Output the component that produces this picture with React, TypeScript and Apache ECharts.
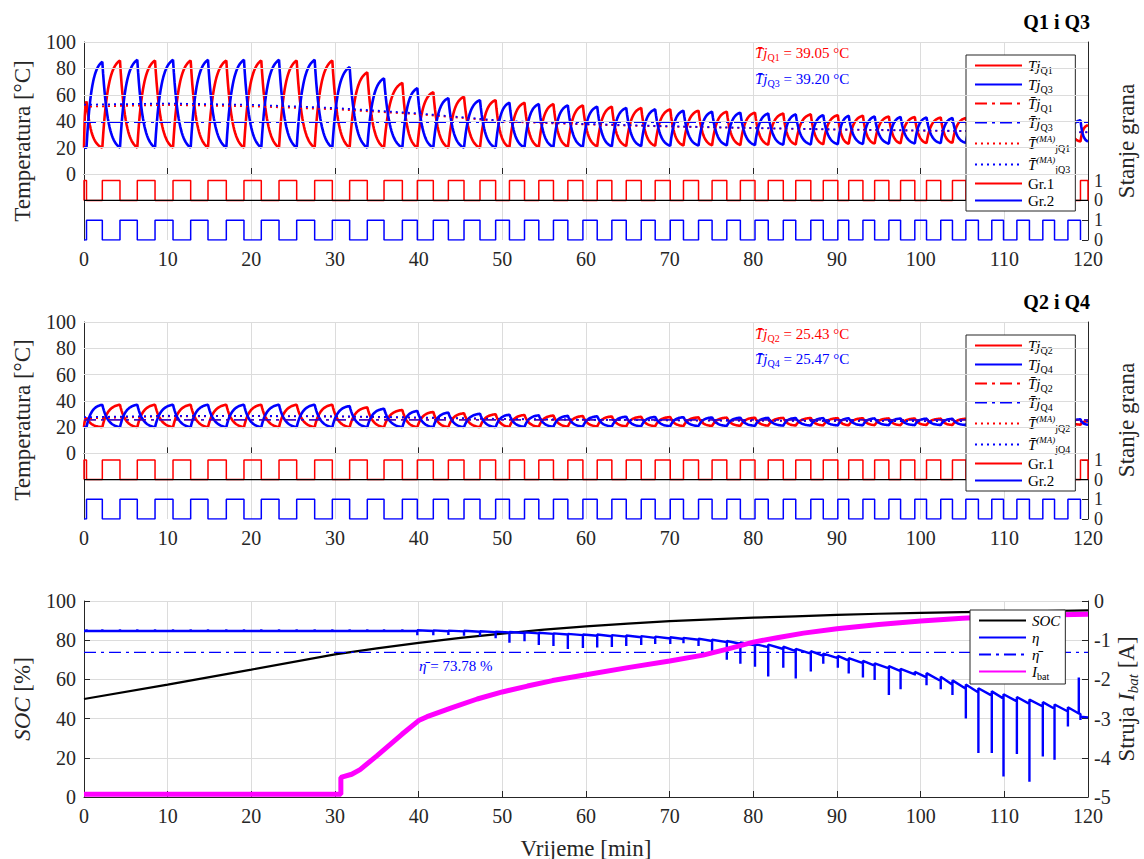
import React, { useEffect, useRef } from "react";
import * as echarts from "echarts";

const FONT = "'Liberation Serif', 'Times New Roman', serif";

// ---------- Gate (switching) edges, minutes: Gr.1 high from gr1On[k] to gr1Off[k]; Gr.2 high in between ----------
const gr1On = [0, 2.19, 6.37, 10.64, 14.82, 19.12, 23.31, 27.57, 31.75, 35.86, 39.84, 43.55, 47.33, 50.85, 54.36, 57.83, 61.34, 64.81, 68.27, 71.65, 75.07, 78.45, 81.78, 85.07, 88.36, 91.4, 94.5, 97.6, 100.7, 103.8, 106.9, 109.9, 113.0, 116.0, 119.1];
const gr1Off = [0.3, 4.3, 8.49, 12.75, 17.01, 21.19, 25.42, 29.68, 33.86, 38.05, 41.75, 45.42, 49.2, 52.65, 56.11, 59.63, 63.09, 66.6, 70.07, 73.45, 76.83, 80.2, 83.58, 86.87, 90.1, 93.1, 96.2, 99.3, 102.4, 105.4, 108.5, 111.5, 114.6, 117.6, 120];
// right-hand "Stanje grana" axis labels (Gr.2 at 0/1, Gr.1 stacked above at 0/1)
const stateLabels = ["0", "1", "0", "1", "", "", "", "", "", "", ""];

// ---------- Panel 1: per-cycle peaks / troughs (deg C) ----------
const q1Peak = [55, 86, 86, 86, 86, 86, 86, 86, 77, 69, 62, 58.5, 56, 54, 53, 52, 51, 50, 49, 48, 47.2, 46.5, 45.8, 45.2, 44.6, 44.1, 43.6, 43.2, 42.8, 42.4, 42, 41.7, 41.4, 41.1, 37];
const q3Peak = [85, 86.5, 86.5, 86.5, 86.5, 86.5, 86.5, 81, 72.5, 65, 57.5, 56, 54, 53, 52, 51, 50, 49, 48, 47.2, 46.5, 45.8, 45.2, 44.6, 44.1, 43.6, 43.2, 42.8, 42.4, 42, 41.7, 41.4, 41.1, 40.8];
const trough1 = [20, 20, 20, 20, 20, 20, 20, 20, 20, 20, 20, 20, 20, 20.3, 20.5, 20.7, 21, 21.2, 21.4, 21.6, 21.8, 22, 22.2, 22.4, 22.6, 22.8, 23, 23.2, 23.4, 23.6, 23.8, 24, 24.2, 24.4, 24.6];
const mean1 = [39.05, 39.2];

// ---------- Panel 2 ----------
const q2Peak = [27, 37, 37, 37, 37, 37, 37, 37, 35, 33, 31.5, 30.5, 29.8, 29.2, 28.8, 28.4, 28.1, 27.8, 27.6, 27.4, 27.2, 27.1, 27, 26.9, 26.8, 26.7, 26.6, 26.5, 26.4, 26.3, 26.2, 26.1, 26, 26, 24.5];
const q4Peak = [37, 37, 37, 37, 37, 37, 37, 36, 34, 32.3, 31, 30.1, 29.4, 28.9, 28.5, 28.2, 27.9, 27.7, 27.5, 27.3, 27.1, 27, 26.9, 26.8, 26.7, 26.6, 26.5, 26.4, 26.3, 26.2, 26.1, 26, 26, 25.9];
const trough2 = [20, 20, 20, 20, 20, 20, 20, 20, 20, 20, 20, 20, 20, 20.2, 20.3, 20.4, 20.5, 20.6, 20.7, 20.8, 20.9, 21, 21.1, 21.2, 21.3, 21.4, 21.5, 21.5, 21.6, 21.6, 21.7, 21.7, 21.8, 21.8, 21.8];
const mean2 = [25.43, 25.47];

// ---------- moving averages ----------
const maTime = [0, 10, 20, 30, 40, 50, 60, 70, 80, 90, 100, 110, 120];
const ma1Red = [51, 52.3, 51.3, 49, 45.3, 39.8, 37.5, 35.9, 34.7, 33.6, 32.8, 32.1, 31.5];
const ma1Blue = [52.5, 53.4, 52.4, 50, 45.9, 40.3, 37.9, 36.2, 34.9, 33.8, 33, 32.3, 31.7];
const ma2Red = [26.5, 28.2, 28.3, 28, 27, 26, 25.5, 25.1, 24.8, 24.6, 24.5, 24.4, 24.3];
const ma2Blue = [27.5, 28.6, 28.5, 28.2, 27.3, 26.2, 25.6, 25.2, 24.9, 24.7, 24.6, 24.5, 24.4];

// ---------- Panel 3 ----------
const socTime = [0, 10, 20, 30, 35, 40, 45, 50, 55, 60, 65, 70, 75, 80, 85, 90, 95, 100, 105, 110, 115, 120];
const socVal = [50, 57.3, 65, 72.8, 75.8, 78.6, 81.2, 83.4, 85.4, 87.1, 88.5, 89.7, 90.6, 91.5, 92.2, 92.9, 93.5, 93.9, 94.3, 94.6, 94.9, 95.2];
const ibatTime = [0, 30.7, 30.7, 32, 33, 35, 38, 40, 41, 44, 47, 50, 53, 56, 60, 65, 70, 74, 77, 80, 83, 86, 90, 95, 100, 105, 110, 115, 120];
const ibatVal = [-4.93, -4.93, -4.5, -4.42, -4.3, -3.95, -3.4, -3.05, -2.95, -2.72, -2.5, -2.32, -2.17, -2.03, -1.88, -1.7, -1.53, -1.38, -1.22, -1.05, -0.93, -0.82, -0.71, -0.6, -0.51, -0.44, -0.39, -0.36, -0.34];
const etaEarly = 84.7;
const etaEarlyBlip = 85.6;
const etaT = [39.84, 41.75, 43.55, 45.42, 47.33, 49.2, 50.85, 52.65, 54.36, 56.11, 57.83, 59.63, 61.34, 63.09, 64.81, 66.6, 68.27, 70.07, 71.65, 73.45, 75.07, 76.83, 78.45, 80.2, 81.78, 83.58, 85.07, 86.87, 88.36, 90.1, 91.4, 93.1, 94.5, 96.2, 97.6, 99.3, 100.7, 102.4, 103.8, 105.4, 106.9, 108.5, 109.9, 111.5, 113.0, 114.6, 116.0, 117.6, 118.9, 119.1];
const etaLvl = [84.8, 84.7, 84.6, 84.5, 84.3, 84.1, 83.9, 83.7, 83.5, 83.2, 82.9, 82.6, 82.3, 82.0, 81.8, 81.5, 81.2, 80.9, 80.6, 80.2, 79.6, 79.0, 78.2, 77.4, 76.5, 75.5, 74.4, 73.2, 72.0, 70.8, 69.6, 68.3, 67.0, 65.6, 64.2, 62.6, 61.0, 59.2, 57.3, 55.2, 53.3, 51.7, 50.2, 48.8, 47.5, 46.2, 45.0, 43.6, 42.6, 42.4];
const etaDip = [82.5, 82.5, 82.6, 82.3, 82, 81, 78.7, 79.5, 77.5, 77, 75.5, 76, 76.3, 76.5, 77, 77.5, 78, 78, 78.5, 77, 74, 70, 68, 66.5, 61.5, 66, 60.5, 64, 68, 66, 63, 61, 59.7, 52, 55, 62, 57, 55, 52, 40, 22.4, 22.4, 10.4, 22, 7.8, 20.6, 19, 36, 61, 39.3];
const etaAft = [85.1, 85.0, 84.9, 84.8, 84.6, 84.4, 84.2, 84.0, 83.8, 83.5, 83.2, 82.9, 82.9, 82.6, 82.4, 82.1, 81.8, 81.5, 81.2, 80.8, 80.2, 79.6, 78.8, 78.0, 77.7, 76.7, 75.6, 74.4, 73.2, 72.0, 70.8, 69.5, 68.2, 66.8, 65.4, 63.8, 63.2, 61.4, 59.5, 57.4, 55.5, 53.9, 52.4, 51.0, 49.7, 48.4, 47.2, 45.8, 42.6, 41.0];
const etaEnd = 40.6;
const etaMean = 73.78;

const T_END = 120;

// ---------- builders ----------
function seg(out: number[][], t0: number, t1: number, v0: number, v1: number) {
  const D = t1 - t0;
  if (D <= 0) return;
  const n = Math.max(6, Math.ceil(D * 10));
  const tau = D / 3.2;
  const norm = 1 - Math.exp(-D / tau);
  for (let i = 0; i <= n; i++) {
    const s = (D * i) / n;
    out.push([t0 + s, v0 + ((v1 - v0) * (1 - Math.exp(-s / tau))) / norm]);
  }
}

function buildPair(pA: number[], pB: number[], tr: number[]) {
  const A: number[][] = [];
  const B: number[][] = [];
  const N = gr1On.length;
  let a = tr[0];
  let b = tr[0];
  for (let k = 0; k < N; k++) {
    seg(A, gr1On[k], gr1Off[k], a, pA[k]);
    a = pA[k];
    seg(B, gr1On[k], gr1Off[k], b, tr[k]);
    b = tr[k];
    const next = k + 1 < N ? gr1On[k + 1] : T_END;
    if (gr1Off[k] < next) {
      const trN = k + 1 < N ? tr[k + 1] : tr[k];
      seg(A, gr1Off[k], next, a, trN);
      a = trN;
      seg(B, gr1Off[k], next, b, pB[k]);
      b = pB[k];
    }
  }
  return [A, B];
}

function gateRed(base: number) {
  const d: number[][] = [];
  for (let k = 0; k < gr1On.length; k++) {
    d.push([gr1On[k], base], [gr1On[k], base + 1], [gr1Off[k], base + 1], [gr1Off[k], base]);
  }
  return d;
}
function gateBlue(base: number) {
  const d: number[][] = [[0, base]];
  for (let k = 0; k < gr1On.length; k++) {
    const next = k + 1 < gr1On.length ? gr1On[k + 1] : T_END;
    if (gr1Off[k] < next) d.push([gr1Off[k], base], [gr1Off[k], base + 1], [next, base + 1], [next, base]);
  }
  return d;
}
const zip = (xs: number[], ys: number[]) => xs.map((x, i) => [x, ys[i]]);

function buildEta() {
  const d: number[][] = [[0, etaEarly]];
  const early = [...gr1On, ...gr1Off].filter((t) => t > 0 && t < etaT[0]).sort((p, q) => p - q);
  early.forEach((t) => d.push([t, etaEarly], [t, etaEarlyBlip], [t, etaEarly]));
  etaT.forEach((t, i) => d.push([t, etaLvl[i]], [t, etaDip[i]], [t, etaAft[i]]));
  d.push([T_END, etaEnd]);
  return d;
}

// ---------- styling helpers ----------
const RED = "#ff0000";
const BLUE = "#0000ff";
const GRIDC = "#dcdcdc";
const DASHDOT = [12, 5, 3, 5];
const DOT = [2, 4];

const richBase = {
  i: { fontFamily: FONT, fontStyle: "italic", fontSize: 15, lineHeight: 19, verticalAlign: "middle" },
  n: { fontFamily: FONT, fontSize: 15, lineHeight: 19, verticalAlign: "middle" },
  s: { fontFamily: FONT, fontSize: 10, lineHeight: 10, verticalAlign: "bottom" },
  p: { fontFamily: FONT, fontStyle: "italic", fontSize: 9, lineHeight: 9, verticalAlign: "top" },
};
const bigRich = {
  i: { fontFamily: FONT, fontStyle: "italic", fontSize: 23, lineHeight: 28, verticalAlign: "middle" },
  n: { fontFamily: FONT, fontSize: 23, lineHeight: 28, verticalAlign: "middle" },
  s: { fontFamily: FONT, fontStyle: "italic", fontSize: 15, lineHeight: 14, verticalAlign: "bottom" },
};

const legendNames: Record<string, string> = {
  TjQ1: "{i|Tj}{s|Q1}",
  TjQ3: "{i|Tj}{s|Q3}",
  TmQ1: "{i|T\u0304j}{s|Q1}",
  TmQ3: "{i|T\u0304j}{s|Q3}",
  MAQ1: "{i|T\u0304}{p|(MA)}{s|jQ1}",
  MAQ3: "{i|T\u0304}{p|(MA)}{s|jQ3}",
  Gr1a: "{n|Gr.1}",
  Gr2a: "{n|Gr.2}",
  TjQ2: "{i|Tj}{s|Q2}",
  TjQ4: "{i|Tj}{s|Q4}",
  TmQ2: "{i|T\u0304j}{s|Q2}",
  TmQ4: "{i|T\u0304j}{s|Q4}",
  MAQ2: "{i|T\u0304}{p|(MA)}{s|jQ2}",
  MAQ4: "{i|T\u0304}{p|(MA)}{s|jQ4}",
  Gr1b: "{n|Gr.1}",
  Gr2b: "{n|Gr.2}",
  SOC: "{i|SOC}",
  eta: "{i|\u03b7}",
  etam: "{i|\u03b7\u0304}",
  Ibat: "{i|I}{s|bat}",
};

function line(name: string, xi: number, yi: number, data: number[][], color: string, width: number, type: any = "solid") {
  return {
    type: "line",
    name,
    xAxisIndex: xi,
    yAxisIndex: yi,
    data,
    symbol: "none",
    showSymbol: false,
    lineStyle: { color, width, type },
    itemStyle: { color, opacity: 0 },
    emphasis: { disabled: true },
    silent: true,
  };
}

function gridSeries(xi: number, yi: number) {
  return {
    type: "line",
    name: "_grid" + xi,
    xAxisIndex: xi,
    yAxisIndex: yi,
    data: [[0, 0], [120, 0]],
    symbol: "none",
    lineStyle: { opacity: 0 },
    silent: true,
    z: 0,
    markLine: {
      silent: true,
      symbol: ["none", "none"],
      label: { show: false },
      animation: false,
      lineStyle: { color: GRIDC, type: "solid", width: 1 },
      data: [0, 20, 40, 60, 80, 100].map((v) => ({ yAxis: v })),
    },
  };
}

function buildOption() {
  const [q1, q3] = buildPair(q1Peak, q3Peak, trough1);
  const [q2, q4] = buildPair(q2Peak, q4Peak, trough2);
  const grids = [
    { left: 84, top: 42, width: 1004, height: 198 },
    { left: 84, top: 322, width: 1004, height: 197 },
    { left: 84, top: 601, width: 1004, height: 196 },
  ];
  const tickLabel = { fontFamily: FONT, fontSize: 20, color: "#262626" };
  const xAxes = [0, 1, 2].map((i) => ({
    type: "value",
    gridIndex: i,
    min: 0,
    max: 120,
    interval: 10,
    axisLine: { show: true, lineStyle: { color: "#262626", width: 1 } },
    axisTick: { show: true, inside: true, length: 6, lineStyle: { color: "#262626" } },
    axisLabel: { ...tickLabel, margin: 9, hideOverlap: false },
    splitLine: { show: true, lineStyle: { color: GRIDC, width: 1 } },
  }));
  const tempAxis = (g: number) => ({
    type: "value",
    gridIndex: g,
    position: "left",
    min: -50,
    max: 100,
    interval: 10,
    axisLine: { show: true, onZero: false, lineStyle: { color: "#262626" } },
    axisTick: { show: true, inside: true, length: 6, customValues: [0, 20, 40, 60, 80, 100], lineStyle: { color: "#262626" } },
    axisLabel: {
      ...tickLabel,
      margin: 8,
      hideOverlap: false,
      customValues: [0, 20, 40, 60, 80, 100],
      formatter: (v: number) => (v >= 0 && v % 20 === 0 ? String(v) : ""),
    },
    splitLine: { show: false },
  });
  const stateAxis = (g: number) => ({
    type: "category",
    gridIndex: g,
    position: "right",
    data: stateLabels,
    boundaryGap: false,
    axisLine: { show: true, onZero: false, lineStyle: { color: "#262626" } },
    axisTick: { show: true, inside: true, length: 6, interval: (i: number) => i <= 3, lineStyle: { color: "#262626" } },
    axisLabel: { ...tickLabel, fontSize: 18, lineHeight: 15, margin: 6, interval: 0, hideOverlap: false },
    splitLine: { show: false },
  });
  const yAxes = [
    tempAxis(0),
    stateAxis(0),
    tempAxis(1),
    stateAxis(1),
    {
      type: "value",
      gridIndex: 2,
      position: "left",
      min: 0,
      max: 100,
      interval: 20,
      axisLine: { show: true, onZero: false, lineStyle: { color: "#262626" } },
      axisTick: { show: true, inside: true, length: 6, lineStyle: { color: "#262626" } },
      axisLabel: { ...tickLabel, margin: 8, hideOverlap: false },
      splitLine: { show: true, lineStyle: { color: GRIDC, width: 1 } },
    },
    {
      type: "value",
      gridIndex: 2,
      position: "right",
      min: -5,
      max: 0,
      interval: 1,
      axisLine: { show: true, onZero: false, lineStyle: { color: "#262626" } },
      axisTick: { show: true, inside: true, length: 6, lineStyle: { color: "#262626" } },
      axisLabel: { ...tickLabel, margin: 6, hideOverlap: false },
      splitLine: { show: false },
    },
  ];

  const series: any[] = [
    gridSeries(0, 0),
    line("Gr1a", 0, 1, gateRed(2), RED, 1.5),
    line("Gr2a", 0, 1, gateBlue(0), BLUE, 1.5),
    line("_base0", 0, 1, [[0, 2], [120, 2]], "#000", 1.2),
    line("TjQ1", 0, 0, q1, RED, 2.6),
    line("TjQ3", 0, 0, q3, BLUE, 2.6),
    line("TmQ1", 0, 0, [[0, mean1[0]], [120, mean1[0]]], RED, 1.3, DASHDOT),
    line("TmQ3", 0, 0, [[0, mean1[1]], [120, mean1[1]]], BLUE, 1.3, DASHDOT),
    line("MAQ1", 0, 0, zip(maTime, ma1Red), RED, 1.8, DOT),
    line("MAQ3", 0, 0, zip(maTime, ma1Blue), BLUE, 1.8, DOT),

    gridSeries(1, 2),
    line("Gr1b", 1, 3, gateRed(2), RED, 1.5),
    line("Gr2b", 1, 3, gateBlue(0), BLUE, 1.5),
    line("_base1", 1, 3, [[0, 2], [120, 2]], "#000", 1.2),
    line("TjQ2", 1, 2, q2, RED, 2.6),
    line("TjQ4", 1, 2, q4, BLUE, 2.6),
    line("TmQ2", 1, 2, [[0, mean2[0]], [120, mean2[0]]], RED, 1.3, DASHDOT),
    line("TmQ4", 1, 2, [[0, mean2[1]], [120, mean2[1]]], BLUE, 1.3, DASHDOT),
    line("MAQ2", 1, 2, zip(maTime, ma2Red), RED, 1.8, DOT),
    line("MAQ4", 1, 2, zip(maTime, ma2Blue), BLUE, 1.8, DOT),

    line("SOC", 2, 4, zip(socTime, socVal), "#000", 2.2),
    line("eta", 2, 4, buildEta(), BLUE, 2.4),
    line("etam", 2, 4, [[0, etaMean], [120, etaMean]], BLUE, 1.2, DASHDOT),
    line("Ibat", 2, 5, zip(ibatTime, ibatVal), "#ff00ff", 5),
  ];

  const legendBase = {
    orient: "vertical",
    itemWidth: 47,
    itemHeight: 14,
    itemGap: 2,
    padding: [3, 5, 3, 8],
    borderColor: "#262626",
    borderWidth: 1,
    backgroundColor: "#ffffff",
    selectedMode: false,
    itemStyle: { opacity: 0, borderWidth: 0 },
    textStyle: { color: "#000", fontFamily: FONT, fontSize: 15, rich: richBase, padding: [0, 0, 0, 1] },
    formatter: (name: string) => legendNames[name] || name,
  };
  const legends = [
    { ...legendBase, left: 966, top: 55, data: ["TjQ1", "TjQ3", "TmQ1", "TmQ3", "MAQ1", "MAQ3", "Gr1a", "Gr2a"] },
    { ...legendBase, left: 966, top: 335, data: ["TjQ2", "TjQ4", "TmQ2", "TmQ4", "MAQ2", "MAQ4", "Gr1b", "Gr2b"] },
    { ...legendBase, left: 970, top: 610, data: ["SOC", "eta", "etam", "Ibat"] },
  ];

  const annot = (x: number, y: number, text: string, color: string) => ({
    type: "text",
    x,
    y,
    z: 50,
    silent: true,
    style: { text, fill: color, rich: richBase, align: "left", verticalAlign: "middle" },
  });
  const rotated = (x: number, y: number, text: string, rot: number) => ({
    type: "text",
    x,
    y,
    rotation: rot,
    z: 50,
    silent: true,
    style: { text, fill: "#262626", rich: bigRich, align: "center", verticalAlign: "middle" },
  });
  const title = (y: number, text: string) => ({
    type: "text",
    x: 1090,
    y,
    z: 50,
    silent: true,
    style: { text, fill: "#000", fontFamily: FONT, fontWeight: "bold", fontSize: 20, align: "right", verticalAlign: "middle" },
  });

  const graphic = [
    title(22, "Q1 i Q3"),
    title(302, "Q2 i Q4"),
    annot(755, 53, "{i|T\u0304j}{s|Q1}{n| = 39.05 \u00b0C}", RED),
    annot(755, 79, "{i|T\u0304j}{s|Q3}{n| = 39.20 \u00b0C}", BLUE),
    annot(755, 334, "{i|T\u0304j}{s|Q2}{n| = 25.43 \u00b0C}", RED),
    annot(755, 359, "{i|T\u0304j}{s|Q4}{n| = 25.47 \u00b0C}", BLUE),
    annot(419, 666, "{i|\u03b7\u0304}{n| = 73.78 %}", BLUE),
    rotated(22, 141, "{n|Temperatura [\u00b0C]}", Math.PI / 2),
    rotated(22, 420, "{n|Temperatura [\u00b0C]}", Math.PI / 2),
    rotated(1126, 141, "{n|Stanje grana}", Math.PI / 2),
    rotated(1126, 420, "{n|Stanje grana}", Math.PI / 2),
    rotated(22, 699, "{i|SOC}{n| [%]}", Math.PI / 2),
    rotated(1126, 699, "{n|Struja }{i|I}{s|bat}{n| [A]}", Math.PI / 2),
    rotated(586, 848, "{n|Vrijeme [min]}", 0),
  ];

  return {
    animation: false,
    backgroundColor: "#ffffff",
    grid: grids,
    xAxis: xAxes,
    yAxis: yAxes,
    series,
    legend: legends,
    graphic,
  };
}

export default function App() {
  const ref = useRef<HTMLDivElement>(null);
  useEffect(() => {
    document.body.style.margin = "0";
    const chart = echarts.init(ref.current as HTMLDivElement, undefined, { renderer: "svg", width: 1144, height: 859 });
    chart.setOption(buildOption() as any);
    return () => chart.dispose();
  }, []);
  return <div ref={ref} style={{ width: 1144, height: 859 }} />;
}
